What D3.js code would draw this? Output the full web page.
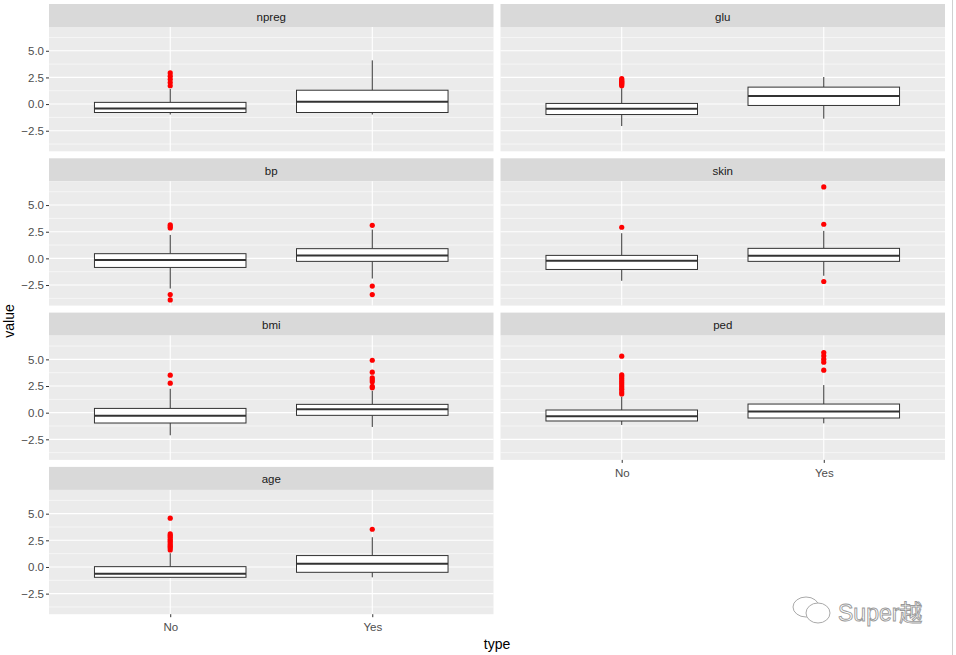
<!DOCTYPE html>
<html><head><meta charset="utf-8">
<script src="https://cdn.jsdelivr.net/npm/d3@7"></script>
<style>body{margin:0;background:#fff}svg{display:block;font-family:"Liberation Sans",Arial,sans-serif}</style>
</head><body><svg id="chart" width="956" height="655"></svg>
<script>
const variables = ["npreg","glu","bp","skin","bmi","ped","age"];
const types = ["No","Yes"];
const yTicks = [-2.5, 0, 2.5, 5];
const yMinor = [-3.75, -1.25, 1.25, 3.75, 6.25];
// per variable: [No, Yes]
const whiskerLow  = [[-0.98,-0.98],[-2.06,-1.37],[-2.83,-1.89],[-2.10,-1.63],[-2.12,-1.34],[-1.15,-1.00],[-1.00,-0.97]];
const q1          = [[-0.79,-0.79],[-0.98,-0.13],[-0.85,-0.28],[-1.04,-0.28],[-0.97,-0.25],[-0.78,-0.50],[-0.97,-0.50]];
const medians     = [[-0.41, 0.22],[-0.44, 0.76],[-0.16, 0.28],[-0.22, 0.25],[-0.28, 0.31],[-0.34, 0.12],[-0.63, 0.31]];
const q3          = [[ 0.16, 1.30],[ 0.06, 1.59],[ 0.44, 0.91],[ 0.28, 0.94],[ 0.40, 0.78],[ 0.25, 0.81],[ 0.03, 1.07]];
const whiskerHigh = [[ 1.42, 4.10],[ 1.49, 2.54],[ 2.20, 2.70],[ 2.36, 2.58],[ 2.24, 2.06],[ 1.50, 2.59],[ 1.29, 2.79]];
const outliers = [
  [[1.72,2.02,2.32,2.62,2.92],[]],
  [[1.72,1.85,1.95,2.05,2.15,2.25,2.38],[]],
  [[2.85,3.0,3.15,-3.4,-3.9],[3.1,-2.6,-3.4]],
  [[2.92],[6.7,3.2,-2.17]],
  [[3.52,2.77],[4.92,3.80,3.27,3.08,2.9,2.46,2.34]],
  [[5.3,3.55,3.4,3.2,3.0,2.8,2.6,2.4,2.2,1.95,1.75],[5.64,5.33,5.02,4.74,3.99]],
  [[4.58,3.1,2.95,2.8,2.6,2.45,2.3,2.1,1.95,1.8,1.6],[3.54]]
];

const svg = d3.select("#chart");
const colX = [49, 500.5], panelW = 444.5;
const rowY = [4, 158.3, 312.6, 466.9], stripH = 23, panelH = 124.3;

const allVals = d3.merge([d3.merge(whiskerLow), d3.merge(whiskerHigh), d3.merge(outliers.map(d=>d3.merge(d)))]);
const lo = d3.min(allVals), hi = d3.max(allVals), pad = (hi-lo)*0.05;
const x = d3.scalePoint().domain(types).range([0, panelW]).padding(0.6);
const xBand = x.step()*0.75;

variables.forEach((v, i) => {
  const col = i % 2, row = Math.floor(i / 2);
  const g = svg.append("g").attr("transform", `translate(${colX[col]},${rowY[row]})`);
  g.append("rect").attr("width", panelW).attr("height", stripH).attr("fill", "#d9d9d9");
  g.append("text").attr("x", panelW/2).attr("y", stripH/2 + 5).attr("text-anchor","middle")
    .attr("font-size", 11.5).attr("fill", "#1a1a1a").text(v);
  const p = g.append("g").attr("transform", `translate(0,${stripH})`);
  const y = d3.scaleLinear().domain([lo-pad, hi+pad]).range([panelH, 0]);
  p.append("rect").attr("width", panelW).attr("height", panelH).attr("fill", "#ebebeb");
  p.selectAll(".minor").data(yMinor).join("line").attr("x1",0).attr("x2",panelW)
    .attr("y1", d=>y(d)).attr("y2", d=>y(d)).attr("stroke","#fff").attr("stroke-width",0.55);
  p.selectAll(".major").data(yTicks).join("line").attr("x1",0).attr("x2",panelW)
    .attr("y1", d=>y(d)).attr("y2", d=>y(d)).attr("stroke","#fff").attr("stroke-width",1.1);
  p.selectAll(".vmaj").data(types).join("line").attr("y1",0).attr("y2",panelH)
    .attr("x1", d=>x(d)).attr("x2", d=>x(d)).attr("stroke","#fff").attr("stroke-width",1.1);

  types.forEach((t, j) => {
    const cx = x(t);
    p.append("line").attr("x1",cx).attr("x2",cx).attr("y1",y(q3[i][j])).attr("y2",y(whiskerHigh[i][j]))
      .attr("stroke","#333").attr("stroke-width",1);
    p.append("line").attr("x1",cx).attr("x2",cx).attr("y1",y(q1[i][j])).attr("y2",y(whiskerLow[i][j]))
      .attr("stroke","#333").attr("stroke-width",1);
    p.append("rect").attr("x", cx - xBand/2).attr("width", xBand)
      .attr("y", y(q3[i][j])).attr("height", y(q1[i][j]) - y(q3[i][j]))
      .attr("fill","#fff").attr("stroke","#333").attr("stroke-width",1);
    p.append("line").attr("x1",cx - xBand/2).attr("x2",cx + xBand/2)
      .attr("y1",y(medians[i][j])).attr("y2",y(medians[i][j])).attr("stroke","#333").attr("stroke-width",2);
    p.selectAll(null).data(outliers[i][j]).join("circle").attr("cx",cx).attr("cy",d=>y(d))
      .attr("r",2.6).attr("fill","#ff0000");
  });

  if (col === 0) {
    const ay = p.append("g").call(d3.axisLeft(y).tickValues(yTicks).tickSize(3).tickPadding(2)
      .tickFormat(d3.format(".1f")));
    ay.select(".domain").remove();
    ay.selectAll("line").attr("stroke","#333");
    ay.selectAll("text").attr("font-size",11.5).attr("fill","#4d4d4d").attr("font-family","Liberation Sans, Arial, sans-serif");
  }
  if (i >= variables.length - 2) {
    const ax = p.append("g").attr("transform",`translate(0,${panelH})`)
      .call(d3.axisBottom(x).tickSize(3).tickPadding(6));
    ax.select(".domain").remove();
    ax.selectAll("line").attr("stroke","#333");
    ax.selectAll("text").attr("font-size",11.5).attr("fill","#4d4d4d").attr("font-family","Liberation Sans, Arial, sans-serif");
  }
});

svg.append("text").attr("transform","translate(14,321) rotate(-90)").attr("text-anchor","middle")
  .attr("font-size",14).attr("fill","#000").text("value");
svg.append("text").attr("x",497).attr("y",649).attr("text-anchor","middle")
  .attr("font-size",14).attr("fill","#000").text("type");

// watermark
const wm = svg.append("g").attr("fill","none").attr("stroke","#aaa").attr("stroke-width",1);
wm.append("ellipse").attr("cx",806).attr("cy",607).attr("rx",13).attr("ry",10);
wm.append("ellipse").attr("cx",818).attr("cy",613).attr("rx",12).attr("ry",10).attr("fill","#fff");
svg.append("text").attr("x",838).attr("y",621).attr("font-size",23).attr("fill","#fff")
  .attr("stroke","#999").attr("stroke-width",0.9).attr("font-family","Liberation Sans, Noto Sans CJK SC, sans-serif").text("Super越");
svg.append("line").attr("x1",952.5).attr("x2",952.5).attr("y1",0).attr("y2",655).attr("stroke","#d0d0d0");
</script></body></html>
